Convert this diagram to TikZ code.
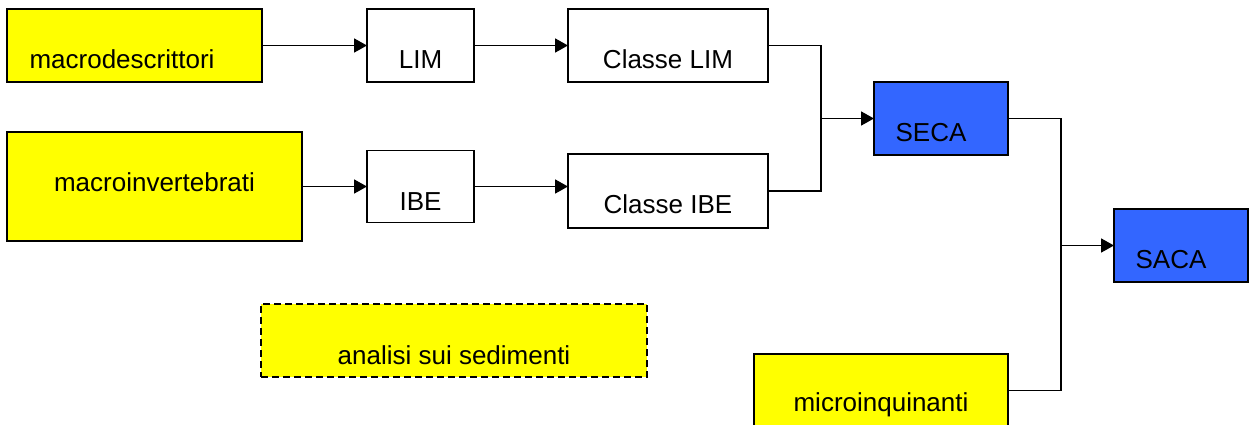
\documentclass[tikz,border=0pt]{standalone}
\usepackage{fontspec}
\setmainfont{Liberation Sans}
\usetikzlibrary{
  arrows.meta,
  positioning,
}
\definecolor{boxyellow}{RGB}{255,255,0}
\definecolor{boxblue}{RGB}{51,102,255}
\tikzset{
  >={Triangle[length=13pt,width=14pt]},
}

\begin{document}
\begin{tikzpicture}[
        x=1pt, y=-1pt,
        line width=1.8pt,
        every node/.style={draw, inner sep=0pt, outer sep=0pt, minimum height=73pt},
        every label/.style={draw=none, font=\fontsize{26}{31}\selectfont},
        input/.style={fill=boxyellow},
        index/.style={fill=white},
        state/.style={fill=boxblue, minimum width=134pt},
      ]
      \useasboundingbox (0,0) rectangle (1254,424);

      \node[input, minimum width=255pt,
        label={[xshift=-12.5pt, yshift=-14pt]center:macrodescrittori}]
        (macrodesc) at (134.5,45.5) {};
      \node[index, minimum width=107pt, right=105pt of macrodesc,
        label={[yshift=-14pt]center:LIM}] (lim) {};
      \node[index, minimum width=200pt, right=94pt of lim,
        label={[yshift=-14pt]center:Classe LIM}] (clim) {};

      \node[input, minimum width=295pt, minimum height=109pt,
        label={[yshift=4pt]center:macroinvertebrati}]
        (macroinv) at (154.5,186.5) {};
      \node[index, minimum width=107pt, minimum height=72pt, right=65pt of macroinv,
        label={[yshift=-15pt]center:IBE}] (ibe) {};
      \node[index, minimum width=200pt, minimum height=74pt, below=72pt of clim,
        label={[yshift=-13pt]center:Classe IBE}] (clibe) {};

      \node[state, label={[xshift=-10pt, yshift=-14pt]center:SECA}]
        (seca) at (941,118.5) {};
      \node[state, below right=54pt and 106pt of seca,
        label={[xshift=-10pt, yshift=-14pt]center:SACA}] (saca) {};

      \node[input, dashed, dash pattern=on 7pt off 4pt, minimum width=386pt,
        label={[yshift=-15pt]center:analisi sui sedimenti}]
        (analisi) at (454,340.5) {};
      \node[input, minimum width=254pt,
        label={[yshift=-14.5pt]center:microinquinanti}]
        (microinq) at (881,390.5) {};

      % junctions
      \coordinate (jseca) at ([xshift=-53pt]seca.west);
      \coordinate (jsaca) at ([xshift=-53pt]saca.west);

      \draw[->] (macrodesc) -- (lim);
      \draw[->] (lim) -- (clim);
      \draw[->] (macroinv.east) -- (macroinv.east -| ibe.west);
      \draw[->] (ibe.east) -- (ibe.east -| clibe.west);

      \draw (clim.east) -| (jseca);
      \draw (clibe.east) -| (jseca);
      \draw[->] (jseca) -- (seca.west);

      \draw (seca.east) -| (jsaca);
      \draw (microinq.east) -| (jsaca);
      \draw[->] (jsaca) -- (saca.west);
    \end{tikzpicture}
\end{document}
